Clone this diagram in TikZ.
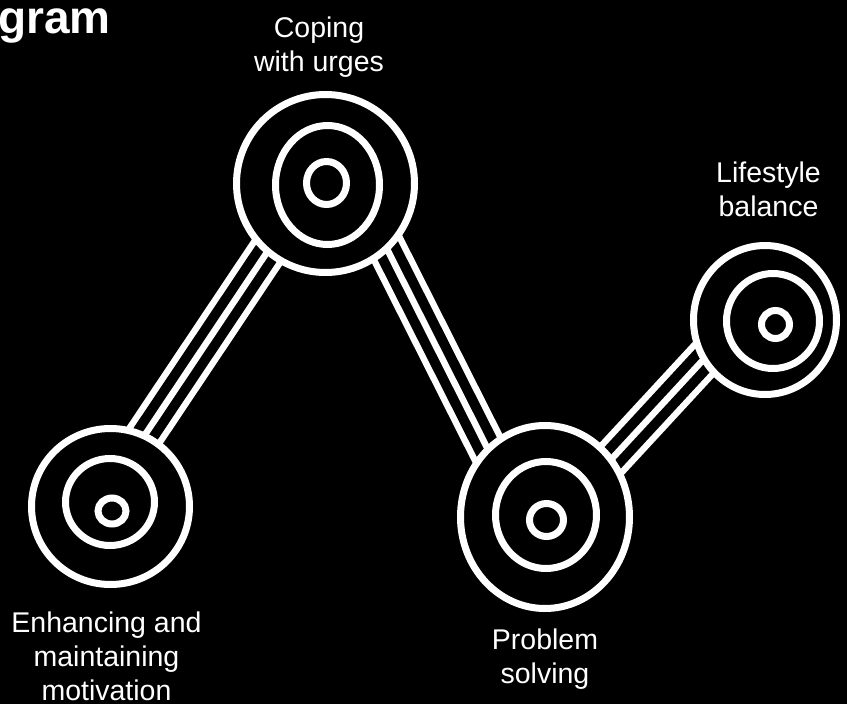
\documentclass[tikz,border=0pt]{standalone}
\usepackage{fontspec}
\setmainfont{Liberation Sans}
\usepackage{tikz}
\usetikzlibrary{shapes.geometric}

\pgfdeclarelayer{bg}
\pgfdeclarelayer{links}
\pgfsetlayers{bg,links,main}

\tikzset{
  rim/.style={ellipse, draw=white, fill=black, line width=7pt, inner sep=0pt},
  midring/.style={ellipse, draw=white, line width=7pt, inner sep=0pt},
  core/.style={ellipse, draw=white, line width=7pt, inner sep=0pt},
  bridge/.style={draw=white, line width=39.5pt,
    postaction={draw=black, line width=26.5pt},
    postaction={draw=white, line width=6.5pt}},
  captext/.style={text=white, align=center, inner sep=0pt, anchor=north,
    font=\fontsize{28.5}{34}\selectfont}
}

\begin{document}
\begin{tikzpicture}[x=1pt, y=-1pt]
        \useasboundingbox (0,0) rectangle (847,704);
        \begin{pgfonlayer}{bg}
          \fill[black] (0,0) rectangle (847,704);
        \end{pgfonlayer}

        % Title (cut at the edge)
        \node[text=white, inner sep=0pt, anchor=base west,
              font=\fontsize{46}{46}\selectfont\bfseries] (title) at (-2,33) {gram};

        % Outer rings
        \node[rim, minimum width=158, minimum height=156] (motiv) at (110.5,506.5) {};
        \node[rim, minimum width=178, minimum height=178] (cope) at (325.5,183.5) {};
        \node[rim, minimum width=169, minimum height=183] (solve) at (545,517) {};
        \node[rim, minimum width=143, minimum height=149] (life) at (765,320) {};

        % Middle rings
        \node[midring, minimum width=89, minimum height=87] (motivm) at (110,502) {};
        \node[midring, minimum width=104, minimum height=119] (copem) at (327.5,185) {};
        \node[midring, minimum width=101, minimum height=107] (solvem) at (546,515) {};
        \node[midring, minimum width=93, minimum height=95] (lifem) at (773,321) {};

        % Centres
        \node[core, minimum width=28, minimum height=26] (motivc) at (112,511) {};
        \node[core, minimum width=40, minimum height=43] (copec) at (326.5,183) {};
        \node[core, minimum width=34, minimum height=33] (solvec) at (546.5,520) {};
        \node[core, minimum width=28, minimum height=28] (lifec) at (775.5,324.5) {};

        % Bridges between rings
        \begin{pgfonlayer}{links}
          \draw[bridge] ([xshift=-13.5pt]motiv.center) -- ([xshift=-12.5pt]cope.center);
          \draw[bridge] ([xshift=28.5pt]cope.center) -- ([xshift=-23pt]solve.center);
          \draw[bridge] ([xshift=13pt]solve.center) -- ([xshift=-25pt]life.center);
        \end{pgfonlayer}

        % Labels
        \node[captext] (tcope) at (319,16.5) {Coping\\with urges};
        \node[captext] (tmotiv) at (106.5,611.5) {Enhancing and\\maintaining\\motivation};
        \node[captext] (tsolve) at (545,628.5) {Problem\\solving};
        \node[captext] (tlife) at (768.5,161.5) {Lifestyle\\balance};
    \end{tikzpicture}
\end{document}
